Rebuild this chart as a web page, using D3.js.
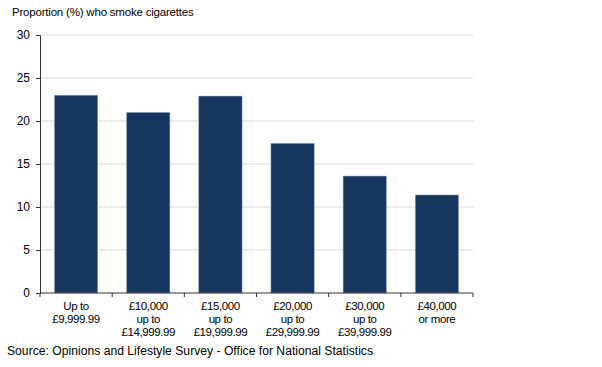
<!DOCTYPE html>
<html>
<head>
<meta charset="utf-8">
<script src="https://cdn.jsdelivr.net/npm/d3@7"></script>
<style>
	body { margin: 0; background: #fff; }
	svg text { font-family: "Liberation Sans", Arial, sans-serif; fill: #000; }
</style>
</head>
<body>
<svg id="chart" width="602" height="367"></svg>
<script>
// 데이터
const categories = [
	["Up to", "£9,999.99"],
	["£10,000", "up to", "£14,999.99"],
	["£15,000", "up to", "£19,999.99"],
	["£20,000", "up to", "£29,999.99"],
	["£30,000", "up to", "£39,999.99"],
	["£40,000", "or more"]
];
const values = [23.0, 21.0, 22.9, 17.4, 13.6, 11.4];
const yTicks = [0, 5, 10, 15, 20, 25, 30];

const svg = d3.select("#chart");
const margin = { left: 40, right: 129, top: 35, bottom: 74 };
const W = 602, H = 367;

const x = d3.scaleBand()
	.domain(d3.range(categories.length))
	.range([margin.left, W - margin.right])
	.paddingInner(0.4)
	.paddingOuter(0.2);

const y = d3.scaleLinear()
	.domain([0, 30])
	.range([H - margin.bottom, margin.top]);

// grid lines
svg.append("g")
	.selectAll("line")
	.data(yTicks.slice(1))
	.join("line")
	.attr("x1", margin.left).attr("x2", W - margin.right)
	.attr("y1", d => y(d)).attr("y2", d => y(d))
	.attr("stroke", "#d9d9d9");

// bars
svg.append("g")
	.selectAll("rect")
	.data(values)
	.join("rect")
	.attr("x", (d, i) => x(i))
	.attr("y", d => y(d))
	.attr("width", x.bandwidth())
	.attr("height", d => y(0) - y(d))
	.attr("fill", "#17365d")
	.attr("stroke", "#9aa8bd")
	.attr("stroke-width", 0.5);

// y axis
const yAxis = svg.append("g")
	.attr("transform", `translate(${margin.left},0)`)
	.call(d3.axisLeft(y).tickValues(yTicks).tickSize(4).tickPadding(6));
yAxis.select(".domain").attr("stroke", "#333");
yAxis.selectAll(".tick line").attr("stroke", "#333");
yAxis.selectAll("text").attr("font-size", 12);

// x axis (category boundaries)
const bounds = d3.range(categories.length + 1).map(i => margin.left + i * x.step());
const xAxis = svg.append("g");
xAxis.append("line")
	.attr("x1", margin.left).attr("x2", W - margin.right)
	.attr("y1", y(0)).attr("y2", y(0))
	.attr("stroke", "#333");
xAxis.selectAll(".tk")
	.data(bounds)
	.join("line")
	.attr("x1", d => d).attr("x2", d => d)
	.attr("y1", y(0)).attr("y2", y(0) + 4)
	.attr("stroke", "#333");

// category labels
categories.forEach((lines, i) => {
	const t = svg.append("text")
		.attr("x", x(i) + x.bandwidth() / 2)
		.attr("y", y(0) + 17)
		.attr("text-anchor", "middle")
		.attr("font-size", 11.5)
		.attr("letter-spacing", -0.4);
	lines.forEach((s, j) => {
		t.append("tspan")
			.attr("x", x(i) + x.bandwidth() / 2)
			.attr("dy", j === 0 ? 0 : 13)
			.text(s);
	});
});

// title
svg.append("text")
	.attr("x", 12).attr("y", 16)
	.attr("font-size", 11.5)
	.attr("letter-spacing", -0.2)
	.text("Proportion (%) who smoke cigarettes");

// source
svg.append("text")
	.attr("x", 7).attr("y", 355)
	.attr("font-size", 12.5)
	.attr("textLength", 366)
	.attr("lengthAdjust", "spacingAndGlyphs")
	.text("Source: Opinions and Lifestyle Survey - Office for National Statistics");
</script>
</body>
</html>
